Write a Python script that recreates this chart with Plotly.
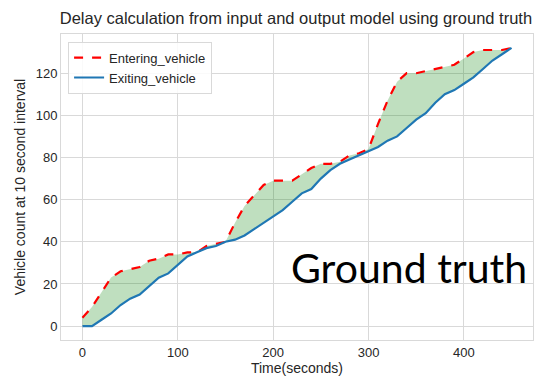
import plotly.graph_objects as go

time_s = list(range(0, 460, 10))
entering = [4, 9, 16, 23, 26, 27, 28, 31, 32, 34,
            34, 35, 35, 38, 39, 40, 49, 57, 62, 67,
            69, 69, 69, 72, 75, 77, 77, 78, 81, 82,
            84, 96, 107, 116, 120, 120, 121, 122, 123, 124,
            127, 130, 131, 131, 131, 132]
exiting = [0, 0, 3, 6, 10, 13, 15, 19, 23, 25,
           29, 33, 35, 37, 38, 40, 41, 43, 46, 49,
           52, 55, 59, 63, 65, 70, 74, 77, 79, 81,
           83, 85, 88, 90, 94, 98, 101, 106, 110, 112,
           115, 118, 122, 126, 129, 132]
x_ticks = [0, 100, 200, 300, 400]
y_ticks = [0, 20, 40, 60, 80, 100, 120]

fig = go.Figure()
# fill between the curves (helper traces)
fig.add_trace(go.Scatter(x=time_s, y=exiting, mode="lines", line=dict(width=0),
                         showlegend=False, hoverinfo="skip"))
fig.add_trace(go.Scatter(x=time_s, y=entering, mode="lines", line=dict(width=0),
                         fill="tonexty", fillcolor="rgba(0,128,0,0.25)",
                         showlegend=False, hoverinfo="skip"))
fig.add_trace(go.Scatter(x=time_s, y=entering, mode="lines", name="Entering_vehicle",
                         line=dict(color="#ff0000", width=2.2, dash="dash")))
fig.add_trace(go.Scatter(x=time_s, y=exiting, mode="lines", name="Exiting_vehicle",
                         line=dict(color="#1f77b4", width=2.2)))

fig.add_annotation(x=342, y=28, xref="x", yref="y", text="Ground truth",
                   showarrow=False, font=dict(family="Lato", size=41, color="black"))

axis_common = dict(showgrid=True, gridcolor="#d9d9d9", gridwidth=1, zeroline=False,
                   showline=True, linecolor="#d9d9d9", linewidth=1, mirror=True,
                   ticks="", tickfont=dict(family="Liberation Sans", size=13, color="#262626"))

fig.update_layout(
    width=540, height=385,
    margin=dict(l=61, r=7, t=34, b=45),
    paper_bgcolor="white", plot_bgcolor="white",
    title=dict(text="Delay calculation from input and output model using ground truth",
               x=0.548, xanchor="center", y=0.953, yanchor="middle",
               font=dict(family="Liberation Sans", size=16.5, color="#262626")),
    xaxis=dict(range=[-22.5, 472.5], tickvals=x_ticks,
               title=dict(text="Time(seconds)", standoff=3,
                          font=dict(family="Liberation Sans", size=14, color="#262626")),
               **axis_common),
    yaxis=dict(range=[-6.6, 138.6], tickvals=y_ticks,
               title=dict(text="Vehicle count at 10 second interval", standoff=6,
                          font=dict(family="Liberation Sans", size=14, color="#262626")),
               **axis_common),
    legend=dict(x=0.015, y=0.975, xanchor="left", yanchor="top", traceorder="normal",
                bgcolor="rgba(255,255,255,0.85)", bordercolor="#d9d9d9", borderwidth=1,
                font=dict(family="Liberation Sans", size=13, color="#262626"),
                tracegroupgap=0),
)

fig.write_html("out.html")
